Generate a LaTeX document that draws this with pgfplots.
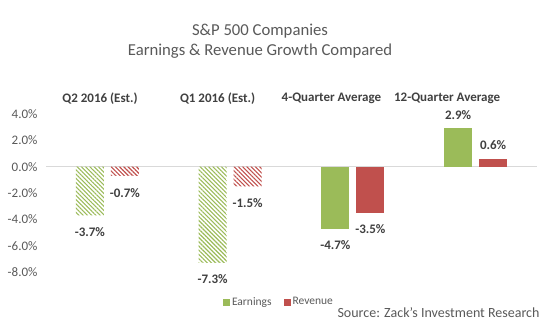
\documentclass[border=0pt]{standalone}
\usepackage{fontspec}
\setmainfont{Carlito}
\usepackage{pgfplots}
\pgfplotsset{compat=1.18}
\usetikzlibrary{patterns.meta}
\definecolor{egreen}{HTML}{9BBB59}
\definecolor{ered}{HTML}{C0504D}
\definecolor{txtgray}{HTML}{595959}
\definecolor{lblgray}{HTML}{404040}
\definecolor{zline}{HTML}{D9D9D9}
\begin{document}
\begin{tikzpicture}[x=1bp,y=1bp]
\useasboundingbox (0,0) rectangle (554,323);
\node[align=center, font=\fontsize{16.7bp}{20.5bp}\selectfont, text=txtgray] at (260,282) {S\&P 500 Companies\\Earnings \& Revenue Growth Compared};
\node[font=\fontsize{14bp}{16bp}\selectfont, text=txtgray] at (438.5,10) {Source: Zack's Investment Research};
\begin{axis}[
  at={(46bp,51bp)}, anchor=south west,
  scale only axis, width=491bp, height=158bp,
  xmin=-0.5, xmax=3.5, ymin=-8, ymax=4,
  clip=false,
  axis line style={draw=none},
  xtick=\empty,
  ytick={-8,-6,-4,-2,0,2,4},
  major tick length=0pt,
  /pgf/number format/assume math mode=true,
  yticklabel={\pgfmathprintnumber[fixed,fixed zerofill,precision=1]{\tick}\%},
  yticklabel style={font=\fontsize{13bp}{15bp}\selectfont, text=txtgray, xshift=-5bp},
  extra y ticks={0},
  extra y tick labels={},
  extra y tick style={grid=major, major grid style={zline, line width=1bp}},
  ybar, bar width=28bp,
  nodes near coords={\pgfmathprintnumber[fixed,fixed zerofill,precision=1]{\pgfplotspointmeta}\%},
  nodes near coords align=vertical,
  every node near coord/.append style={font=\bfseries\fontsize{13bp}{15bp}\selectfont, text=lblgray, inner sep=1bp, yshift=-11bp},
  legend style={at={(0.4745,-0.19)}, anchor=center, draw=none, fill=none,
    font=\fontsize{11.5bp}{13bp}\selectfont, text=txtgray, legend columns=2,
    /tikz/every even column/.append style={column sep=10bp}},
  legend image code/.code={\fill[#1] (0bp,-3.5bp) rectangle (7bp,3.5bp);},
]
\addplot[draw=none, bar shift=-17.5bp, pattern={Lines[angle=-45,distance=3bp,line width=1.1bp]}, pattern color=egreen, forget plot] coordinates {(0,-3.7) (1,-7.3)};
\addplot[draw=none, bar shift=17.5bp, pattern={Lines[angle=-45,distance=3bp,line width=1.1bp]}, pattern color=ered, forget plot] coordinates {(0,-0.7) (1,-1.5)};
\addplot[draw=none, bar shift=-17.5bp, fill=egreen] coordinates {(2,-4.7)};
\addplot[draw=none, bar shift=17.5bp, fill=ered] coordinates {(2,-3.5)};
\addplot[draw=none, bar shift=-17.5bp, fill=egreen, forget plot, every node near coord/.append style={yshift=19bp}] coordinates {(3,2.9)};
\addplot[draw=none, bar shift=17.5bp, fill=ered, forget plot, every node near coord/.append style={yshift=19bp}] coordinates {(3,0.6)};
\legend{Earnings,Revenue}
\node[font=\bfseries\fontsize{13bp}{15bp}\selectfont, text=lblgray] at (axis cs:-0.06,5.2) {Q2 2016 (Est.)};
\node[font=\bfseries\fontsize{13bp}{15bp}\selectfont, text=lblgray] at (axis cs:0.898,5.2) {Q1 2016 (Est.)};
\node[font=\bfseries\fontsize{13bp}{15bp}\selectfont, text=lblgray] at (axis cs:1.825,5.2) {4-Quarter Average};
\node[font=\bfseries\fontsize{13bp}{15bp}\selectfont, text=lblgray] at (axis cs:2.768,5.2) {12-Quarter Average};
\end{axis}
\end{tikzpicture}
\end{document}
